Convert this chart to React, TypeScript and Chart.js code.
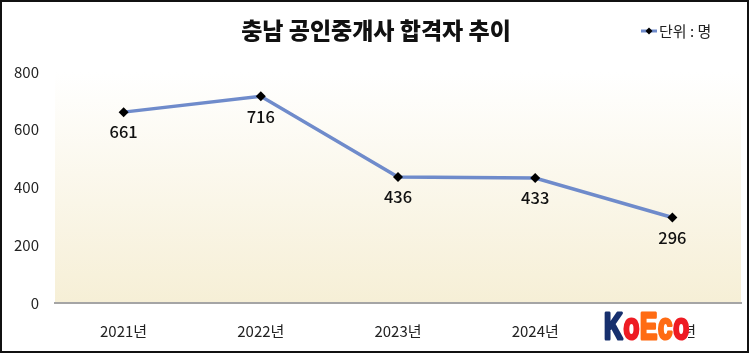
import React, { useEffect, useRef } from "react";
import { Chart, registerables } from "chart.js";

Chart.register(...registerables);

const categories = ["2021년", "2022년", "2023년", "2024년", "2025년"];
const passers = [661, 716, 436, 433, 296];
const yTicks = [0, 200, 400, 600, 800];
const titleText = "충남 공인중개사 합격자 추이";
const legendText = "단위 : 명";

const FONT = "'Noto Sans CJK KR', 'Noto Sans', sans-serif";

const decorPlugin = {
  id: "decor",
  beforeDraw(chart: any) {
    const { ctx, chartArea, width, height } = chart;
    ctx.save();
    ctx.fillStyle = "#ffffff";
    ctx.fillRect(0, 0, width, height);
    const g = ctx.createLinearGradient(0, chartArea.top, 0, chartArea.bottom);
    g.addColorStop(0, "#ffffff");
    g.addColorStop(1, "#f6efd6");
    ctx.fillStyle = g;
    ctx.fillRect(chartArea.left, chartArea.top, chartArea.right - chartArea.left, chartArea.bottom - chartArea.top);
    ctx.restore();
  },
  afterDatasetsDraw(chart: any) {
    const { ctx } = chart;
    const meta = chart.getDatasetMeta(0);
    ctx.save();
    ctx.font = `500 16.5px ${FONT}`;
    ctx.fillStyle = "#111111";
    ctx.textAlign = "center";
    ctx.textBaseline = "middle";
    meta.data.forEach((pt: any, i: number) => {
      ctx.fillText(String(passers[i]), pt.x, pt.y + 20);
    });
    ctx.restore();
  },
  afterDraw(chart: any) {
    const { ctx, width, height } = chart;
    ctx.save();
    // title
    ctx.font = `900 23px ${FONT}`;
    ctx.fillStyle = "#111111";
    ctx.textAlign = "center";
    ctx.textBaseline = "middle";
    ctx.fillText(titleText, 376, 30);
    // legend
    ctx.strokeStyle = "#6f8bcb";
    ctx.lineWidth = 3;
    ctx.beginPath();
    ctx.moveTo(641, 31);
    ctx.lineTo(657, 31);
    ctx.stroke();
    ctx.fillStyle = "#000";
    ctx.beginPath();
    ctx.moveTo(649, 27.5);
    ctx.lineTo(652.5, 31);
    ctx.lineTo(649, 34.5);
    ctx.lineTo(645.5, 31);
    ctx.closePath();
    ctx.fill();
    ctx.font = `15px ${FONT}`;
    ctx.textAlign = "left";
    ctx.fillStyle = "#222";
    ctx.fillText(legendText, 659, 31);
    // logo (covers the last category label)
    ctx.fillStyle = "#ffffff";
    ctx.fillRect(600, 314, 88, 32);
    ctx.save();
    ctx.translate(604, 339);
    ctx.scale(0.72, 1);
    ctx.font = `bold 36px 'Liberation Sans', Arial, sans-serif`;
    ctx.textBaseline = "alphabetic";
    ctx.lineJoin = "round";
    ctx.lineWidth = 3;
    const parts: [string, string][] = [
      ["K", "#17306e"],
      ["o", "#ee1c24"],
      ["E", "#ff6c14"],
      ["c", "#ff6c14"],
      ["o", "#ee1c24"],
    ];
    let x = 0;
    for (const [ch, col] of parts) {
      ctx.fillStyle = col;
      ctx.strokeStyle = col;
      ctx.strokeText(ch, x, 0);
      ctx.fillText(ch, x, 0);
      x += ctx.measureText(ch).width + 1;
    }
    ctx.restore();
    // border
    ctx.strokeStyle = "#111";
    ctx.lineWidth = 2;
    ctx.strokeRect(1, 1, width - 3, height - 2);
    ctx.restore();
  },
};

export default function App() {
  const ref = useRef<HTMLCanvasElement | null>(null);
  useEffect(() => {
    document.body.style.margin = "0";
    const chart = new Chart(ref.current as HTMLCanvasElement, {
      type: "line",
      data: {
        labels: categories,
        datasets: [
          {
            data: passers,
            borderColor: "#6f8bcb",
            borderWidth: 3.5,
            pointStyle: "rectRot",
            pointRadius: 5,
            pointBackgroundColor: "#000",
            pointBorderColor: "#000",
            pointBorderWidth: 0,
            tension: 0,
          },
        ],
      },
      options: {
        animation: false,
        responsive: false,
        devicePixelRatio: 1,
        layout: { padding: { top: 72, right: 9, left: 0, bottom: 0 } },
        plugins: { legend: { display: false }, title: { display: false }, tooltip: { enabled: false } },
        scales: {
          x: {
            offset: true,
            grid: { display: false, drawTicks: false },
            border: { display: true, color: "#a5a5a5", width: 2 },
            ticks: { color: "#222", font: { family: FONT, size: 15 }, padding: 19 },
            afterFit: (s: any) => { s.height = 50; },
          },
          y: {
            min: 0,
            max: 800,
            afterBuildTicks: (s: any) => { s.ticks = yTicks.map((v) => ({ value: v })); },
            grid: { display: false, drawTicks: false },
            border: { display: false },
            ticks: { color: "#222", font: { family: FONT, size: 15 }, padding: 16 },
            afterFit: (s: any) => { s.width = 55; },
          },
        },
      },
      plugins: [decorPlugin],
    });
    return () => chart.destroy();
  }, []);
  return <canvas ref={ref} width={750} height={353} style={{ display: "block" }} />;
}
